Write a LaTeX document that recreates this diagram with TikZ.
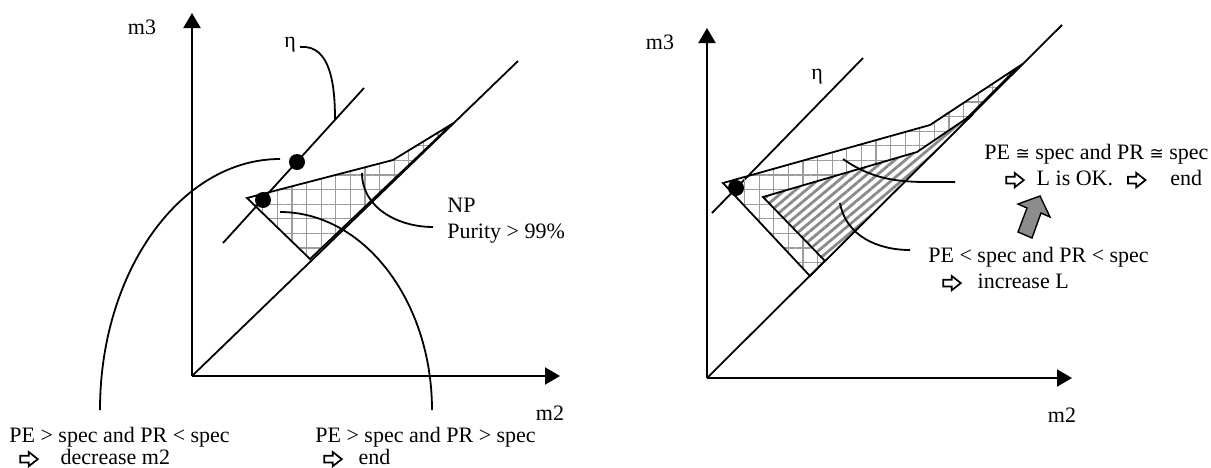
\documentclass[tikz,border=0pt]{standalone}
\usepackage{fontspec}
\setmainfont{Liberation Serif}
\newfontfamily\symbolfont{DejaVu Sans}
\usepackage{xcolor}
\usepackage{tikz}
\usetikzlibrary{
  arrows.meta,
  positioning,
  patterns.meta,
  calc
}
\definecolor{HatchGray}{HTML}{9C9C9C}
\definecolor{StripeGray}{HTML}{8A8A8A}
\definecolor{BlockGray}{HTML}{8C8C8C}
\newcommand{\hollowarrow}{%
  \tikz[baseline=-0.55ex]\draw[line width=0.85pt,line join=miter]
    (0,-1.7pt) -- (4.2pt,-1.7pt) -- (4.2pt,-3.6pt) -- (8.8pt,0pt)
    -- (4.2pt,3.6pt) -- (4.2pt,1.7pt) -- (0,1.7pt) -- cycle;%
}
\newcommand{\approxeq}{{\symbolfont\fontsize{8.5}{8.5}\selectfont ≅}}
\tikzset{
  axisline/.style={
    -{Triangle[length=7.5pt,width=8.5pt]},
    line width=1pt
  },
  boundary/.style={
    line width=0.9pt
  },
  leader/.style={
    line width=0.9pt
  },
  crosshatch/.style={
    draw,
    line width=0.9pt,
    pattern={Hatch[angle=0,distance=7.3pt,line width=0.6pt]},
    pattern color=HatchGray
  },
  striped/.style={
    draw,
    line width=0.9pt,
    preaction={fill=white},
    pattern={Lines[angle=40,distance=3.4pt,line width=1.4pt]},
    pattern color=StripeGray
  },
  blackdot/.style={
    circle,
    fill=black,
    inner sep=0pt,
    minimum size=8pt
  },
  plottext/.style={
    font=\fontsize{11}{13}\selectfont,
    align=left,
    inner sep=0pt
  },
  blockarrow/.style={
    draw=black,
    fill=BlockGray,
    line width=0.7pt,
    line join=miter
  }
}

\begin{document}
\begin{tikzpicture}[
  x=0.5pt,
  y=-0.5pt
]

  \useasboundingbox (0,0) rectangle (1211,467);

  % left plot
  \coordinate (leftorigin) at (192,376);
  \draw[axisline] (leftorigin) -- (192,13);
  \draw[axisline] (leftorigin) -- (560,376);
  \draw[boundary] (leftorigin) -- (518,61);
  \draw[boundary] (223,243) -- (364,88);

  \draw[crosshatch] (247,198) -- (393,160) -- (452,124) -- (310,259) -- cycle;

  \node[blackdot] (upperdot) at (297,162) {};
  \node[blackdot] (lowerdot) at (263,200) {};

  \node[plottext] (leftmthree) at (142,27) {m3};
  \node[plottext] (leftmtwo) at (550,413) {m2};
  \node[plottext] (lefteta) at (290,45) {η};
  \node[
    plottext,
    anchor=west
  ] (purity) at (447,221) {
    NP\\
    Purity > 99\%
  };
  \node[
    plottext,
    anchor=north west
  ] (decrease) at (9,427) {
    PE > spec and PR < spec\\[-2pt]
    \hspace{5pt}\hollowarrow\hspace{11pt}decrease m2
  };
  \node[
    plottext,
    anchor=north west
  ] (stopleft) at (315,427) {
    PE > spec and PR > spec\\[-2pt]
    \hspace{4pt}\hollowarrow\hspace{8pt}end
  };

  \coordinate (etaline) at (335,120);
  \coordinate (nppoint) at (362,173);
  \coordinate (nplead) at (433,227);
  \coordinate (decreasestart) at (280,159);
  \coordinate (decreaselead) at (100,410);
  \coordinate (stopstart) at (280,212);
  \coordinate (stoplead) at (432,410);

  \draw[leader] ([xshift=2pt,yshift=-1pt]lefteta.east) to[out=5,in=90] (etaline);
  \draw[leader] (nppoint) to[out=-90,in=180] (nplead);
  \draw[leader] (decreasestart) .. controls (181,159) and (100,271) .. (decreaselead);
  \draw[leader] (stopstart) .. controls (364,212) and (432,301) .. (stoplead);

  % right plot
  \coordinate (rightorigin) at (707,378);
  \draw[axisline] (rightorigin) -- (707,28);
  \draw[axisline] (rightorigin) -- (1072,378);
  \draw[boundary] (rightorigin) -- (1062,25);
  \draw[boundary] (712,213) -- (863,58);

  \draw[crosshatch] (723,183) -- (930,125) -- (1018,67) -- (810,276) -- cycle;
  \draw[striped] (763,197) -- (917,152) -- (973,114) -- (825,261) -- cycle;

  \node[blackdot] (rightdot) at (736,188) {};

  \node[plottext] (rightmthree) at (660,42) {m3};
  \node[plottext] (rightmtwo) at (1062,415) {m2};
  \node[plottext] (righteta) at (817,77) {η};
  \node[
    plottext,
    anchor=north west
  ] (specok) at (984,144) {
    PE \approxeq\ spec and PR \approxeq\ spec\\
    \hspace{10.5pt}\hollowarrow\hspace{6pt}L is OK.\hspace{7pt}\hollowarrow\hspace{12pt}end
  };
  \node[
    plottext,
    anchor=north west
  ] (increase) at (928,247) {
    PE < spec and PR < spec\\
    \hspace{7pt}\hollowarrow\hspace{8pt}increase L
  };

  \draw[blockarrow]
    (1018,232) -- (1027,208) -- (1018,204) -- (1040,196)
    -- (1050,217) -- (1041,213) -- (1032,238) -- cycle;

  \coordinate (okpoint) at (843,159);
  \coordinate (oklead) at (955,182);
  \coordinate (lowpoint) at (840,203);
  \coordinate (lowlead) at (910,250);

  \draw[leader] (okpoint) to[out=-35,in=180] (oklead);
  \draw[leader] (lowpoint) to[out=-80,in=180] (lowlead);

\end{tikzpicture}
\end{document}
